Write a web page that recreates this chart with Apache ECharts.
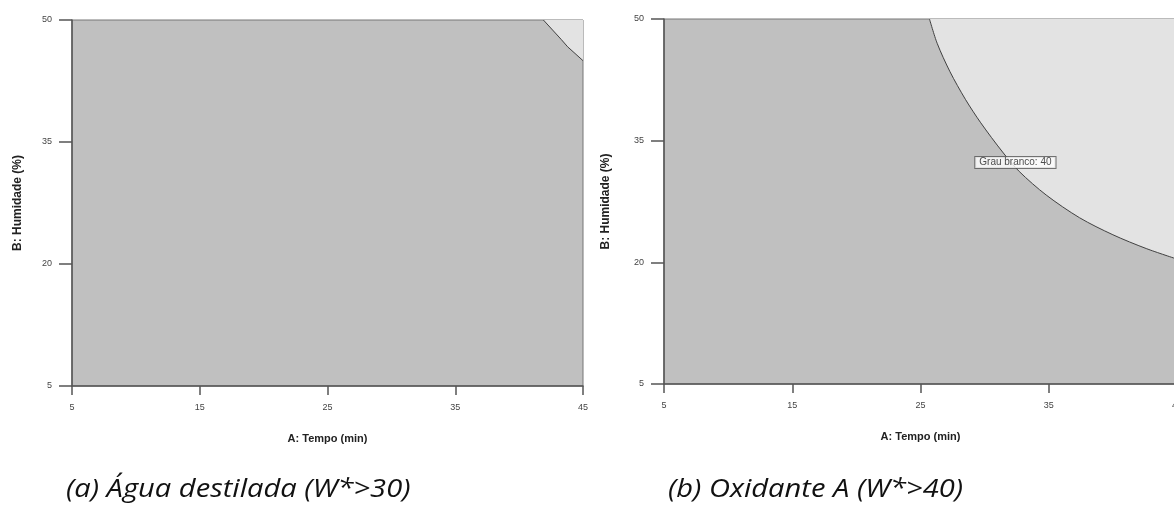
<!DOCTYPE html>
<html>
<head>
<meta charset="utf-8">
<script src="https://cdn.jsdelivr.net/npm/echarts@6/dist/echarts.min.js"></script>
<style>
  html, body { margin: 0; padding: 0; background: #ffffff; }
  #chart { width: 1174px; height: 511px; }
</style>
</head>
<body>
<div id="chart"></div>
<script>
// Axis ranges and tick step (Tempo in min, Humidade in %)
const tempoRange = [5, 45];
const tempoStep = 10;
const humidadeRange = [5, 50];
const humidadeStep = 15;

// Contour W* = 30, distilled water: [tempo, humidade]
const contourAgua = [
  [41.9, 50], [43.3, 47.6], [43.8, 46.7], [45, 45]
];

// Contour W* = 40, oxidant A: [tempo, humidade]
const contourOxidante = [
  [25.7, 50], [26.3, 47.0], [27.3, 43.5], [28.5, 40.1], [29.7, 37.2],
  [31.4, 33.6], [32.7, 31.2], [34.8, 28.3], [37.4, 25.5], [40.0, 23.4],
  [42.6, 21.7], [45, 20.4]
];

// Contour label: [tempo, humidade, text]
const contourLabel = [32.4, 32.3, 'Grau branco: 40'];

const captions = ['(a) Água destilada (W*>30)', '(b) Oxidante A (W*>40)'];
const xName = 'A: Tempo (min)';
const yName = 'B: Humidade (%)';

const DARK = '#c0c0c0';
const LIGHT = '#e3e3e3';
const AXIS = '#555555';

function xAxisFor(gridIndex) {
  return {
    type: 'value', gridIndex,
    min: tempoRange[0], max: tempoRange[1], interval: tempoStep,
    name: xName, nameLocation: 'middle', nameGap: 47,
    nameTextStyle: { fontFamily: 'Liberation Sans', fontWeight: 'bold', fontSize: 11, color: '#222' },
    axisLine: { show: true, lineStyle: { color: AXIS, width: 1.5 } },
    axisTick: { show: true, length: 9, lineStyle: { color: AXIS, width: 1.5 } },
    axisLabel: { margin: 17, fontFamily: 'Liberation Sans', fontSize: 9, color: '#444' },
    splitLine: { show: false }
  };
}

function yAxisFor(gridIndex, gap) {
  return {
    type: 'value', gridIndex,
    min: humidadeRange[0], max: humidadeRange[1], interval: humidadeStep,
    name: yName, nameLocation: 'middle', nameGap: gap,
    nameTextStyle: { fontFamily: 'Liberation Sans', fontWeight: 'bold', fontSize: 12, color: '#222' },
    axisLine: { show: true, lineStyle: { color: AXIS, width: 1.5 } },
    axisTick: { show: true, length: 13, lineStyle: { color: AXIS, width: 1.5 } },
    axisLabel: { margin: 20, fontFamily: 'Liberation Sans', fontSize: 9, color: '#444' },
    splitLine: { show: false }
  };
}

function contourSeries(idx, data, smooth) {
  return {
    type: 'line', xAxisIndex: idx, yAxisIndex: idx,
    data, symbol: 'none', smooth, silent: true,
    lineStyle: { color: '#404040', width: 1 },
    areaStyle: { color: LIGHT, opacity: 1, origin: 'end' },
    z: 2
  };
}

const chart = echarts.init(document.getElementById('chart'), null, { renderer: 'canvas' });

chart.setOption({
  animation: false,
  backgroundColor: '#ffffff',
  grid: [
    { left: 72, top: 20, width: 511, height: 366, show: true, outerBoundsMode: 'none',
      backgroundColor: DARK, borderColor: '#777', borderWidth: 1 },
    { left: 664, top: 19, width: 513, height: 365, show: true, outerBoundsMode: 'none',
      backgroundColor: DARK, borderColor: '#777', borderWidth: 1 }
  ],
  xAxis: [xAxisFor(0), xAxisFor(1)],
  yAxis: [yAxisFor(0, 48), yAxisFor(1, 52)],
  series: [
    contourSeries(0, contourAgua, false),
    contourSeries(1, contourOxidante, 0.3),
    {
      type: 'scatter', xAxisIndex: 1, yAxisIndex: 1,
      data: [[contourLabel[0], contourLabel[1]]],
      symbolSize: 0, silent: true, z: 5,
      label: {
        show: true, position: 'inside',
        formatter: contourLabel[2],
        fontFamily: 'Liberation Sans', fontSize: 10, color: '#222',
        backgroundColor: '#ffffff', borderColor: '#555', borderWidth: 1,
        padding: [1, 4, 0, 4]
      }
    }
  ],
  graphic: [
    { type: 'text', x: 66, y: 477, scaleX: 1.12,
      style: { text: captions[0], font: 'italic 26px "Open Sans"', fill: '#111' } },
    { type: 'text', x: 668, y: 477, scaleX: 1.12,
      style: { text: captions[1], font: 'italic 26px "Open Sans"', fill: '#111' } }
  ]
});
</script>
</body>
</html>
